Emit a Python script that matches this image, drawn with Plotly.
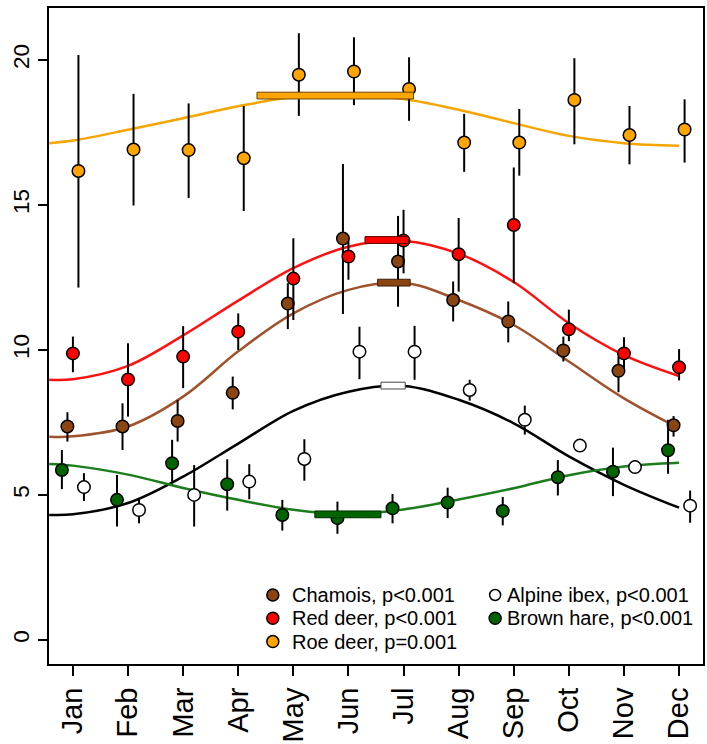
import plotly.graph_objects as go

# ---------------- data ----------------
months = ["Jan", "Feb", "Mar", "Apr", "May", "Jun",
          "Jul", "Aug", "Sep", "Oct", "Nov", "Dec"]
month_pos = list(range(1, 13))
y_ticks = [0, 5, 10, 15, 20]

species = ["Chamois", "Red deer", "Roe deer", "Alpine ibex", "Brown hare"]
p_labels = ["p<0.001", "p<0.001", "p=0.001", "p<0.001", "p<0.001"]

# monthly means with lower / upper interval limits
chamois_mean = [7.36, 7.36, 7.55, 8.52, 11.60, 13.84, 13.05, 11.72, 10.98, 9.98, 9.28, 7.40]
chamois_lo   = [6.84, 6.55, 6.84, 7.95, 10.72, 11.24, 11.49, 10.98, 10.26, 9.60, 8.54, 7.01]
chamois_hi   = [7.85, 8.16, 8.28, 9.08, 12.30, 16.41, 14.62, 12.36, 11.67, 10.46, 9.77, 7.72]

red_mean = [9.88, 8.98, 9.77, 10.63, 12.46, 13.22, 13.77, 13.30, 14.31, 10.71, 9.88, 9.40]
red_lo   = [9.23, 7.70, 8.68, 10.00, 11.03, 12.42, 12.64, 12.01, 12.30, 10.30, 9.35, 8.95]
red_hi   = [10.46, 10.23, 10.82, 11.26, 13.85, 13.75, 14.83, 14.55, 16.29, 11.39, 10.44, 10.03]

roe_mean = [16.17, 16.91, 16.89, 16.61, 19.49, 19.60, 19.00, 17.15, 17.15, 18.62, 17.41, 17.60]
roe_lo   = [12.15, 14.98, 15.24, 14.79, 18.07, 18.44, 17.90, 16.14, 16.01, 17.09, 16.40, 16.46]
roe_hi   = [20.17, 18.83, 18.50, 18.41, 20.92, 20.78, 20.09, 18.14, 18.31, 20.06, 18.41, 18.64]

ibex_mean = [5.27, 4.48, 5.00, 5.46, 6.24, 9.94, 9.94, 8.62, 7.59, 6.70, 5.96, 4.63]
ibex_lo   = [4.79, 4.02, 3.91, 4.85, 5.49, 8.99, 8.97, 8.25, 7.08, 6.62, 5.75, 4.04]
ibex_hi   = [5.75, 4.89, 6.03, 6.06, 6.92, 10.80, 10.83, 8.97, 8.08, 6.78, 6.20, 5.15]

hare_mean = [5.86, 4.83, 6.09, 5.37, 4.31, 4.20, 4.54, 4.74, 4.45, 5.61, 5.80, 6.54]
hare_lo   = [5.20, 3.91, 5.46, 4.46, 3.77, 3.66, 4.02, 4.20, 3.95, 4.98, 4.96, 5.73]
hare_hi   = [6.55, 5.69, 6.90, 6.23, 4.83, 4.77, 5.03, 5.25, 4.93, 6.20, 6.63, 7.59]

# fitted seasonal curves, read at the left plot edge and at each month
curve_x = [0.57, 1, 2, 3, 4, 5, 6, 7, 8, 9, 10, 11, 12]
chamois_curve = [7.01, 7.02, 7.36, 8.39, 9.95, 11.26, 12.07, 12.32, 11.72, 10.86, 9.60, 8.33, 7.30]
red_curve     = [8.97, 8.99, 9.45, 10.50, 11.70, 12.82, 13.56, 13.76, 13.32, 12.34, 10.92, 9.82, 9.10]
roe_curve     = [17.13, 17.22, 17.59, 17.99, 18.40, 18.72, 18.80, 18.65, 18.28, 17.82, 17.38, 17.13, 17.04]
ibex_curve    = [4.31, 4.33, 4.72, 5.63, 6.77, 7.90, 8.56, 8.76, 8.28, 7.47, 6.33, 5.35, 4.56]
hare_curve    = [6.07, 6.01, 5.70, 5.24, 4.83, 4.49, 4.34, 4.50, 4.84, 5.23, 5.68, 5.98, 6.11]

# peak-period bars: start month, end month, level
peak_start = [6.53, 6.30, 4.34, 6.59, 5.39]
peak_end   = [7.12, 7.09, 7.18, 7.03, 6.59]
peak_level = [12.32, 13.79, 18.77, 8.77, 4.33]

# ---------------- styling ----------------
means = [chamois_mean, red_mean, roe_mean, ibex_mean, hare_mean]
lows = [chamois_lo, red_lo, roe_lo, ibex_lo, hare_lo]
highs = [chamois_hi, red_hi, roe_hi, ibex_hi, hare_hi]
curves = [chamois_curve, red_curve, roe_curve, ibex_curve, hare_curve]

point_colors = ["#8B4513", "#FF0000", "#FFA500", "#FFFFFF", "#006400"]
curve_colors = ["#A0522D", "#FF1010", "#F5A500", "#000000", "#1B7D1B"]
bar_lines = ["#3b1e08", "#5a0000", "#6b4700", "#444444", "#002a00"]
x_offsets = [-0.1, 0.0, 0.1, 0.2, -0.2]
draw_order = [0, 1, 2, 3, 4]

FONT = "Liberation Sans, Arial, sans-serif"

fig = go.Figure()

# curves
for i in draw_order:
    fig.add_trace(go.Scatter(
        x=curve_x, y=curves[i], mode="lines",
        line=dict(color=curve_colors[i], width=2.5, shape="spline", smoothing=1.0),
        showlegend=False, hoverinfo="skip"))

# points with intervals
for i in draw_order:
    xs = [m + x_offsets[i] for m in month_pos]
    up = [h - m for h, m in zip(highs[i], means[i])]
    dn = [m - l for m, l in zip(means[i], lows[i])]
    fig.add_trace(go.Scatter(
        x=xs, y=means[i], mode="markers", name=species[i],
        marker=dict(size=12.5, color=point_colors[i], line=dict(color="black", width=1.5)),
        error_y=dict(type="data", symmetric=False, array=up, arrayminus=dn,
                     width=0, thickness=2, color="black"),
        showlegend=False))

# peak bars
for i in draw_order:
    fig.add_shape(type="rect", xref="x", yref="y",
                  x0=peak_start[i], x1=peak_end[i],
                  ysizemode="pixel", yanchor=peak_level[i], y0=-3.4, y1=3.4,
                  fillcolor=point_colors[i], line=dict(color=bar_lines[i], width=1),
                  layer="above")

# legend (two columns, drawn manually to mimic the reference)
L, T, W, H = 49, 8, 656, 656
def px(xp):
    return (xp - L) / W
def py(yp):
    return (T + H - yp) / H

leg_cols = [(273.5, 291.0), (496.5, 506.5)]
leg_rows = [595.0, 618.3, 641.6]
leg_slots = {0: (0, 0), 1: (0, 1), 2: (0, 2), 3: (1, 0), 4: (1, 1)}
for i, (c, r) in leg_slots.items():
    mx, tx = leg_cols[c]
    yy = py(leg_rows[r])
    rad = 6 if i != 3 else 5.5
    fig.add_shape(type="circle", xref="paper", yref="paper",
                  xsizemode="pixel", ysizemode="pixel",
                  xanchor=px(mx), yanchor=yy, x0=-rad, x1=rad, y0=-rad, y1=rad,
                  fillcolor=point_colors[i], line=dict(color="black", width=1.5))
    fig.add_annotation(x=px(tx), y=yy, xref="paper", yref="paper",
                       text=f"{species[i]}, {p_labels[i]}", showarrow=False,
                       xanchor="left", yanchor="middle",
                       font=dict(family=FONT, size=20, color="black"))

fig.update_layout(
    width=707, height=744,
    margin=dict(l=49, r=2, t=8, b=80),
    paper_bgcolor="white", plot_bgcolor="white",
    showlegend=False,
    font=dict(family=FONT, color="black"),
)
fig.update_xaxes(
    range=[0.566, 12.434], tickmode="array", tickvals=month_pos, ticktext=months,
    tickangle=-90, tickfont=dict(size=29, family=FONT, color="black"),
    showgrid=False, zeroline=False, showline=True, linecolor="black", linewidth=2,
    mirror=True, ticks="outside", ticklen=10, tickwidth=2, tickcolor="black")
fig.update_yaxes(
    range=[-0.83, 21.79], tickmode="array", tickvals=y_ticks,
    tickangle=-90, tickfont=dict(size=22.5, family=FONT, color="black"),
    showgrid=False, zeroline=False, showline=True, linecolor="black", linewidth=2,
    mirror=True, ticks="outside", ticklen=9, tickwidth=2, tickcolor="black")

fig.write_html("out.html")
